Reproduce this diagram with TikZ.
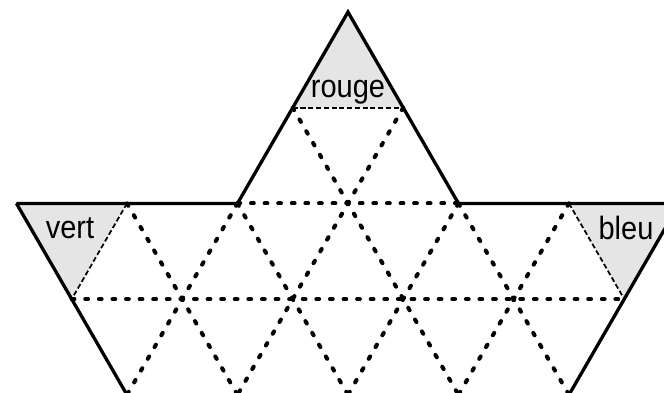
\documentclass[tikz,border=0pt]{standalone}
\usepackage{fontspec}
\setmainfont{Liberation Sans}
\newfontfamily\labelfont[FakeStretch=0.9]{Liberation Sans}
\tikzset{
  edge/.style={line width=0.85pt},
  grid/.style={line width=1.05pt, line cap=round, dash pattern=on 0.7pt off 2.8pt},
  cut/.style={line width=0.45pt, dash pattern=on 1.3pt off 0.7pt},
  corner/.style={fill=gray!20},
  colour/.style={font=\labelfont\fontsize{8.3}{10}\selectfont, inner sep=0pt, anchor=base}
}
\begin{document}
\begin{tikzpicture}
  \useasboundingbox (-3.149,-3.439) rectangle (2.860,0.109);
  % points of the triangle grid
  \coordinate (top) at (0,0);
  \coordinate (r1a) at (-0.5,-0.866); \coordinate (r1b) at (0.5,-0.866);
  \coordinate (r2a) at (-3,-1.732); \coordinate (r2b) at (-2,-1.732); \coordinate (r2c) at (-1,-1.732);
  \coordinate (r2d) at (0,-1.732); \coordinate (r2e) at (1,-1.732); \coordinate (r2f) at (2,-1.732);
  \coordinate (r2g) at (3,-1.732);
  \coordinate (r3a) at (-2.5,-2.598); \coordinate (r3f) at (2.5,-2.598);
  \coordinate (r4a) at (-2,-3.464); \coordinate (r4b) at (-1,-3.464); \coordinate (r4c) at (0,-3.464);
  \coordinate (r4d) at (1,-3.464); \coordinate (r4e) at (2,-3.464);

  \fill[corner] (top) -- (r1a) -- (r1b) -- cycle;
  \fill[corner] (r2a) -- (r2b) -- (r3a) -- cycle;
  \fill[corner] (r2f) -- (r2g) -- (r3f) -- cycle;
  \draw[cut] (r1a) -- (r1b);
  \draw[cut] (r2b) -- (r3a);
  \draw[cut] (r2f) -- (r3f);

  \draw[grid] (r2c) -- (r2e);
  \draw[grid] (r3a) -- (r3f);
  \draw[grid] (r1a) -- (r4d);
  \draw[grid] (r2b) -- (r4b);
  \draw[grid] (r2c) -- (r4c);
  \draw[grid] (r2e) -- (r4e);
  \draw[grid] (r1b) -- (r4b);
  \draw[grid] (r2f) -- (r4d);
  \draw[grid] (r2e) -- (r4c);
  \draw[grid] (r2c) -- (r4a);

  \draw[edge] (r2a) -- (r2c) -- (top) -- (r2e) -- (r2g);
  \draw[edge] (r2a) -- (r4a);
  \draw[edge] (r2g) -- (r4e);

  \node[colour] (rouge) at (0,-0.769) {rouge};
  \node[colour] (vert) at (-2.516,-2.045) {vert};
  \node[colour] (bleu) at (2.516,-2.054) {bleu};
\end{tikzpicture}
\end{document}
